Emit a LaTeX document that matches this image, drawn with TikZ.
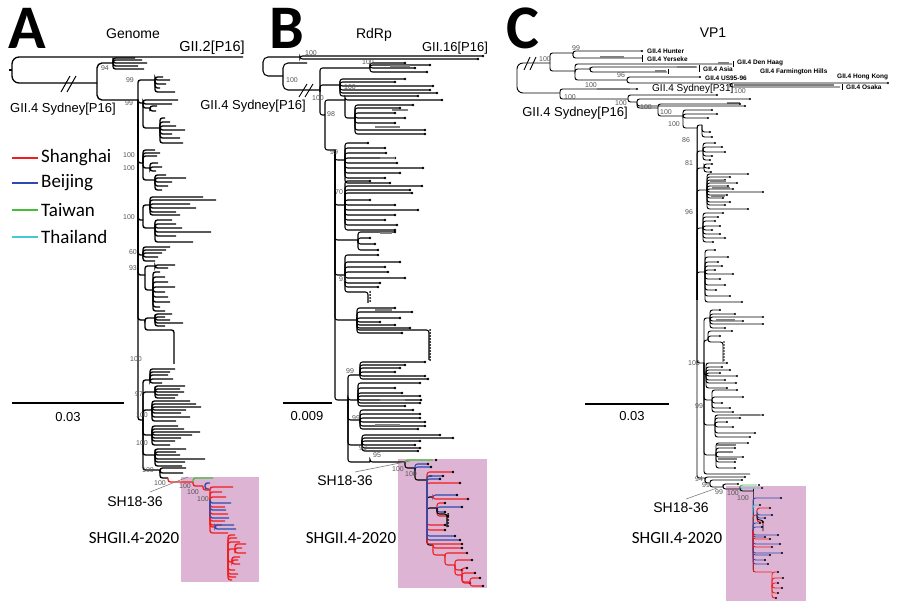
\documentclass[tikz,border=0pt]{standalone}
\usepackage{fontspec}
\setmainfont{Liberation Sans}
\newfontfamily\carl{Carlito}
\definecolor{shr}{RGB}{240,30,30}
\definecolor{bjb}{RGB}{45,75,175}
\definecolor{twg}{RGB}{70,190,60}
\definecolor{thc}{RGB}{70,200,210}
\definecolor{pinkbox}{RGB}{222,180,212}
\definecolor{bsg}{RGB}{85,85,85}
\tikzset{
 br/.style={line width=1.2pt, rounded corners=2.5pt},
 bs/.style={font=\fontsize{7}{7}\selectfont, text=bsg, inner sep=0pt},
 lab/.style={font=\fontsize{13}{13}\selectfont, inner sep=0pt},
 ttl/.style={font=\fontsize{14}{14}\selectfont, inner sep=0pt},
 big/.style={font=\carl\bfseries\fontsize{62}{62}\selectfont, inner sep=0pt, anchor=north west},
 clab/.style={font=\carl\fontsize{17}{17}\selectfont, inner sep=0pt},
 leg/.style={font=\carl\fontsize{19}{19}\selectfont, inner sep=0pt, anchor=west},
 small/.style={font=\bfseries\fontsize{6.5}{6.5}\selectfont, inner sep=0pt, anchor=west},
 gband/.style={line width=2.6pt, draw=gray},
 pointer/.style={draw=gray, line width=0.6pt},
 sbar/.style={line width=1.3pt},
 legline/.style={line width=1.6pt}
}
\newcommand\dotr{1.3pt}
\newcommand\trclade[4][]{\foreach \yy/\xx in {#4}{\draw[br,#1] (#2,#3) |- (\xx,\yy);}}
\newcommand\trcladed[4][]{\foreach \yy/\xx in {#4}{\draw[br,#1] (#2,#3) |- (\xx,\yy); \fill (\xx,\yy) circle[radius=\dotr];}}
\begin{document}
\begin{tikzpicture}[x=1pt,y=-1pt]
\useasboundingbox (0,0) rectangle (900,612);
\fill[white] (0,0) rectangle (900,612);
% pink boxes
\fill[pinkbox] (181,477) rectangle (259,582);
\fill[pinkbox] (398,459) rectangle (487,588);
\fill[pinkbox] (726,486) rectangle (806,601);

% ---------- letters and titles
\node[big] (LA) at (8,8) {A};
\node[big] (LB) at (269,8) {B};
\node[big] (LC) at (506,8) {C};
\node[ttl] (TA) at (133,34) {Genome};
\node[ttl] (TB) at (374,35) {RdRp};
\node[ttl] (TC) at (713,33) {VP1};

% ================= PANEL A =================
\begin{scope}[br/.style={line width=1.35pt, rounded corners=2.5pt}]
\draw[br,rounded corners=7pt] (243,57) -| (12,83) -- (97,83);
\draw[br] (9,70) -- (12,70);
\draw[line width=1pt] (61,92) -- (70,76) (67,92) -- (76,76);
\draw[br,rounded corners=5pt] (113,63) -| (97,100) -- (138,100);
\trclade{113}{63}{58/135, 60/142, 63/147, 66/138, 69/144}
\trclade{138}{100}{80/155, 103/143, 163/143, 220/143, 255/143, 275/145, 320/145, 420/143}
\trclade{155}{80}{77/163, 80/170, 84/166, 88/160, 92/175}
\trclade{143}{103}{100/178, 104/172, 108/150, 128/160}
\trclade{150}{108}{106/157, 111/156}
\trclade{160}{128}{118/165, 122/170, 126/176, 130/185, 134/172, 138/180, 143/183}
\trclade{143}{163}{150/155, 153/160, 156/157, 168/150, 180/155}
\trclade{150}{168}{163/158, 167/162, 171/156}
\trclade{155}{180}{175/166, 178/186, 182/172, 186/168, 190/162}
\trclade{143}{220}{205/150, 228/155}
\trclade{150}{205}{197/203, 200/216, 204/190, 208/196, 212/176, 215/180}
\trclade{155}{228}{220/172, 224/176, 228/182, 232/211, 236/176, 242/193}
\trclade{143}{255}{247/170, 250/166, 253/162, 257/158, 261/155}
\trclade{145}{275}{266/155, 290/153}
\trclade{155}{266}{265/175, 268/168}
\trclade{153}{290}{272/160, 277/165, 282/168, 287/175, 292/165, 297/168, 302/170, 307/160, 311/165}
\trclade{145}{320}{318/155, 330/160}
\trclade{155}{318}{314/172, 317/165, 320/170, 323/183, 326/165}
\draw[br] (160,330) -- (174,330) -- (174,364);
\trclade{143}{420}{380/150, 392/155, 410/152, 435/152, 455/155, 470/160}
\trclade{150}{380}{369/175, 372/170, 375/168, 379/173, 383/162}
\trclade{155}{392}{386/185, 389/180, 392/184, 395/178, 398/175}
\trclade{152}{410}{401/190, 404/196, 407/201, 410/186, 413/181, 417/190, 421/176}
\trclade{152}{435}{426/178, 429/184, 432/200, 435/192, 438/181, 441/175, 445/170}
\trclade{155}{455}{449/186, 452/176, 455/180, 459/205, 462/185, 466/182}
\trclade{160}{470}{468/186, 473/183, 478/168}
% coloured
\draw[br,shr] (168,478) |- (193,482);
\draw[br,twg] (193,482) |- (213,478);
\trclade[shr]{193}{482}{486/203}
\trclade[bjb]{205}{486}{483/210, 489/209}
\trclade[shr]{203}{486}{490/210}
\trclade[shr]{210}{500}{487/233, 492/222, 497/226, 507/225, 514/228, 521/225, 525/222, 527/215, 533/228}
\trclade[bjb]{210}{500}{503/231, 510/226, 518/229}
\trclade[bjb]{215}{527}{525/234, 529/236}
\trclade[shr]{228}{555}{535/235, 538/237, 542/240, 549/235, 562/232, 570/235, 574/238, 577/236, 580/232}
\trclade[shr]{235}{549}{544/246, 548/242, 553/246}
\trclade[shr]{232}{562}{557/240, 560/238, 564/240}
\end{scope}
% bootstraps A
\foreach \x/\y/\t [count=\i] in {105/68/94, 130/80/99, 129/103/99, 129/155/100, 129/168/100, 129/217/100, 133/252/60, 133/268/93, 136/359/100, 139/394/97, 142/415/100, 142/443/100, 148/470/100, 160/483/100, 185/486/100, 193/492/100, 203/499/100}
  \node[bs] (bsA\i) at (\x,\y) {\t};
\node[lab,font=\fontsize{14.5}{14.5}\selectfont] (gA) at (212,48) {GII.2[P16]};
\node[lab, anchor=west] (sydA) at (10,109) {GII.4 Sydney[P16]};
% legend
\foreach \c/\t/\y [count=\i] in {shr/Shanghai/158, bjb/Beijing/183, twg/Taiwan/210, thc/Thailand/237}{
  \draw[legline,\c] (12,\y) -- (38,\y);
  \node[leg] (legA\i) at (41,\y) {\t};
}
\draw[sbar] (12,403) -- (124,403);
\node[lab] (scA) at (68,417) {0.03};
\node[lab,font=\fontsize{14}{14}\selectfont] (shA) at (135,502) {SH18-36};
\node[clab] (sgA) at (134,538) {SHGII.4-2020};
\coordinate (pA1) at (150,492);
\coordinate (pA2) at (188,477);
\draw[pointer] (pA1) -- (pA2);

% ================= PANEL B =================
\begin{scope}[br/.style={line width=1.05pt, rounded corners=2.5pt}]
\draw[br,rounded corners=5pt] (300,57) -| (263,76) -- (283,76);
\trcladed{300}{57}{56/483, 59/478}
\draw[br,rounded corners=5pt] (307,63) -| (283,90) -- (320,90);
\draw[line width=0.9pt] (299,97) -- (307,84) (305,97) -- (313,84);
\trclade{320}{92}{68/370, 85/340, 115/325}
\trcladed{370}{68}{63/405, 65/430, 68/415, 72/427}
\trcladed{340}{85}{79/405, 82/395, 86/433, 90/430, 93/437, 96/418}
\trclade{325}{115}{100/345, 150/335}
\trcladed{345}{100}{100/442}
\trclade{345}{100}{118/355}
\trcladed{355}{118}{105/413, 108/400, 113/395, 118/405, 123/395, 130/425, 134/425}
\trclade{335}{150}{160/345, 205/345, 240/358, 275/345, 320/357, 400/348}
\trcladed{345}{160}{143/368, 148/385, 153/386, 158/395, 163/397, 168/423, 173/400, 178/385, 183/390}
\trcladed{345}{205}{181/370, 186/422, 190/410, 193/412, 200/370, 205/395, 210/418, 215/395, 220/385, 225/397, 230/395}
\trcladed{358}{240}{232/395, 238/370, 244/375, 250/378}
\trcladed{345}{275}{255/378, 262/400, 267/385, 272/388, 278/405, 283/380, 287/378}
\draw[br] (345,275) |- (368,292) -- (368,303);
\foreach \y in {292,295,...,303} \fill (370,\y) circle[radius=1pt];
\trcladed{357}{320}{308/395, 312/412, 318/400, 322/380, 325/395, 328/410, 333/402}
\draw[br] (357,320) |- (429,330) -- (429,360);
\foreach \y in {330,333,...,360} \fill (430,\y) circle[radius=1pt];
\trclade{348}{400}{375/360, 400/358, 420/360, 445/362, 462/370}
\trcladed{360}{375}{362/425, 365/405, 368/400, 372/395, 376/425, 379/428}
\trcladed{358}{400}{383/420, 388/395, 393/402, 396/420, 400/421, 403/420, 406/405}
\trcladed{360}{420}{410/413, 414/420, 418/420, 422/425, 426/425, 429/418}
\trcladed{362}{445}{435/440, 438/453, 441/420, 445/415, 448/420, 451/418}
\trclade{370}{462}{462/405}
\draw[gband] (390,66) -- (410,66) (392,110) -- (408,110) (375,127) -- (400,127) (380,158) -- (395,158) (392,233) -- (380,233) (375,310) -- (392,310) (380,400) -- (405,400) (375,425) -- (400,425);
% coloured
\draw[br,twg] (405,462) |- (433,460); \fill (436,460) circle[radius=\dotr];
\trclade{405}{462}{468/415}
\trcladed[bjb]{415}{468}{464/428, 467/431}
\trclade{415}{468}{480/427}
\trclade{427}{510}{476/432, 497/433, 508/437, 545/433}
\trcladed[shr]{427}{490}{472/453, 483/460, 525/445, 530/445, 544/462}
\trcladed[bjb]{427}{490}{476/443, 479/440, 536/455, 540/460}
\trcladed[bjb]{433}{497}{495/457}
\trcladed[shr]{433}{497}{499/468}
\trcladed[shr]{437}{508}{503/445, 516/448}
\trcladed[bjb]{437}{508}{507/462, 512/445}
\draw[br] (437,508) |- (447,514) -- (447,527);
\foreach \y in {514,517,...,527} \fill (448,\y) circle[radius=1pt];
\trcladed[shr]{433}{545}{548/462}
\trclade[shr]{433}{545}{555/445}
\trcladed[shr]{445}{555}{553/467}
\trclade[shr]{445}{555}{565/455}
\trcladed[shr]{455}{565}{560/472, 570/462}
\trclade[shr]{455}{565}{575/462}
\trcladed[shr]{462}{575}{568/467, 573/475, 583/470}
\trclade[shr]{462}{575}{582/470}
\trcladed[shr]{470}{582}{578/480, 586/483}
\end{scope}
\foreach \x/\y/\t [count=\i] in {311/53/100, 292/80/100, 318/98/100, 331/114/98, 368/62/100, 350/87/100, 334/152/99, 339/192/70, 343/279/91, 350/371/99, 356/418/99, 363/448/92, 377/455/95, 398/469/100, 411/474/100}
  \node[bs] (bsB\i) at (\x,\y) {\t};
\node[lab] (gB) at (455,48) {GII.16[P16]};
\node[lab, anchor=east] (sydB) at (306,106) {GII.4 Sydney[P16]};
\draw[sbar] (283,403) -- (332,403);
\node[lab] (scB) at (307,416) {0.009};
\node[lab,font=\fontsize{14}{14}\selectfont] (shB) at (345,481) {SH18-36};
\node[clab] (sgB) at (351,538) {SHGII.4-2020};
\coordinate (pB1) at (355,472);
\coordinate (pB2) at (410,461);
\draw[pointer] (pB1) -- (pB2);

% ================= PANEL C =================
\renewcommand\dotr{1.2pt}
\begin{scope}[br/.style={line width=0.95pt, rounded corners=2.5pt}]
\draw[br,rounded corners=6pt] (550,63) -| (517,93) -- (560,93);
\draw[line width=0.9pt] (524,70) -- (530,57) (530,70) -- (536,57);
\trclade{550}{63}{53/573, 71/575}
\trcladed{573}{53}{51/642}
\draw[br] (573,53) |- (642,58);
\draw[br] (642,55) -- (642,62);
\draw[gband] (600,57) -- (624,57);
\draw[br] (575,71) |- (732,64);
\draw[br] (733,61) -- (733,67);
\draw[gband] (718,63) -- (729,63);
\trclade{575}{71}{69/590, 80/627}
\trclade{590}{70}{67/697, 72/667}
\draw[br] (699,65) -- (699,72) (668,69) -- (668,74);
\draw[gband] (677,67) -- (696,67) (655,71) -- (666,71);
\trcladed{627}{80}{77/700}
\trclade{627}{80}{83/730}
\trcladed{730}{84}{83/888}
\draw[br] (730,84) |- (840,87);
\draw[br] (842,84) -- (842,90);
\draw[gband] (734,85) -- (834,85);
% Sydney lineage
\trcladed{560}{93}{89/637}
\draw[gband] (597,89) -- (630,89);
\trclade{560}{93}{99/628}
\trcladed{628}{99}{95/717}
\trclade{628}{99}{102/637}
\trcladed{637}{102}{99/750, 106/745}
\draw[gband] (727,103) -- (740,103);
\trclade{637}{102}{108/658}
\trcladed{658}{108}{104/740}
\trclade{658}{108}{116/683}
\trcladed{683}{116}{110/712, 114/717, 118/708}
\trclade{683}{116}{128/697}
\trclade{697}{300}{128/697, 125/702, 151/703, 168/704, 190/707, 228/703, 272/705, 363/704, 478/705}
\trcladed{702}{125}{132/710, 137/712}
\trcladed{703}{151}{143/715, 147/722, 152/725, 156/712, 160/710}
\trcladed{704}{168}{164/712, 168/709, 172/711}
\trcladed{707}{190}{174/748, 177/730, 180/725, 183/737, 186/728, 189/733, 192/763, 195/727, 198/723, 202/730, 205/725, 209/748}
\draw[gband] (710,181) -- (726,181) (712,188) -- (730,188) (711,196) -- (725,196);
\trcladed{703}{228}{213/723, 217/718, 221/715, 226/720, 230/712, 234/720, 238/725, 242/713}
\trcladed{705}{272}{250/715, 257/728, 262/718, 266/722, 270/715, 274/733, 279/720, 285/725, 290/716, 296/730, 302/742}
\trclade{704}{363}{318/710, 340/708, 375/706, 400/712, 425/715, 455/716, 474/750}
\trcladed{710}{318}{310/720, 314/735, 317/763, 321/743, 324/763, 328/725}
\draw[gband] (716,320) -- (735,320);
\trcladed{708}{340}{331/732, 336/720}
\draw[br] (708,340) |- (723,342) -- (723,362);
\foreach \y in {342,345,...,362} \fill (724,\y) circle[radius=0.9pt];
\trcladed{706}{375}{363/727, 367/722, 370/730, 373/720, 376/737, 380/725, 383/736, 388/727}
\trcladed{712}{400}{390/737, 397/743, 403/722, 408/730, 412/733}
\trcladed{715}{425}{415/763, 418/740, 422/727, 427/733, 433/755, 437/750}
\trcladed{716}{455}{443/748, 448/735, 452/730, 457/743, 462/735, 468/735}
\draw[gband] (717,445) -- (736,445) (718,452) -- (733,452) (718,459) -- (737,459) (740,415) -- (760,415);
% bottom ladder
\trclade{705}{478}{483/710}
\trcladed{705}{478}{477/745}
\trcladed{710}{483}{480/742}
\trclade{710}{483}{487/723}
\trcladed{723}{487}{484/738}
\trclade{723}{487}{489/740}
\draw[br,twg] (740,489) |- (757,485); \fill (759,485) circle[radius=\dotr];
\draw[br,thc] (740,489) |- (760,488); \fill (762,488) circle[radius=\dotr];
\draw[br] (740,489) |- (753,491);
\trclade{753}{530}{491/753, 572/753}
\trcladed[bjb]{753}{530}{498/781, 535/778, 537/765, 544/780, 553/782, 555/770, 560/765, 564/768}
\trcladed[thc]{753}{530}{505/760}
\trcladed[shr]{753}{530}{539/770, 547/772}
\trclade[shr]{753}{530}{515/757, 572/772}
\trcladed[shr]{757}{515}{508/770, 522/763}
\trcladed[bjb]{757}{515}{515/772, 518/765}
\trcladed[bjb]{753}{530}{523/760, 527/762}
\draw[br] (757,515) |- (763,520) -- (763,531);
\trcladed[shr]{772}{585}{572/778, 578/783, 583/778, 588/782, 593/778, 598/776}
\end{scope}
\foreach \x/\y/\t [count=\i] in {576/48/99, 545/59/100, 621/75/96, 591/85/100, 570/97/100, 740/91/100, 621/103/100, 646/107/100, 666/112/100, 674/124/100, 686/140/86, 689/163/81, 689/212/96, 694/363/100, 699/406/99, 699/479/94, 706/485/99, 719/492/99, 733/493/100, 743/498/100}
  \node[bs] (bsC\i) at (\x,\y) {\t};
\node[small] (nHu) at (647,51) {GII.4 Hunter};
\node[small] (nYe) at (647,59) {GII.4 Yerseke};
\node[small] (nDH) at (737,63) {GII.4 Den Haag};
\node[small] (nAs) at (703,69) {GII.4 Asia};
\node[small] (nFH) at (760,72) {GII.4 Farmington Hills};
\node[small] (nUS) at (705,78) {GII.4 US95-96};
\node[small] (nHK) at (837,77) {GII.4 Hong Kong};
\node[small] (nOs) at (846,87) {GII.4 Osaka};
\node[lab,font=\fontsize{10}{10}\selectfont, anchor=west] (nP31) at (652,89) {GII.4 Sydney[P31]};
\node[lab, anchor=east] (sydC) at (628,113) {GII.4 Sydney[P16]};
\draw[sbar] (585,404) -- (669,404);
\node[lab] (scC) at (632,416) {0.03};
\node[lab,font=\fontsize{14}{14}\selectfont] (shC) at (681,508) {SH18-36};
\node[clab] (sgC) at (677,538) {SHGII.4-2020};
\coordinate (pC1) at (686,499);
\coordinate (pC2) at (717,488);
\draw[pointer] (pC1) -- (pC2);
\end{tikzpicture}
\end{document}
